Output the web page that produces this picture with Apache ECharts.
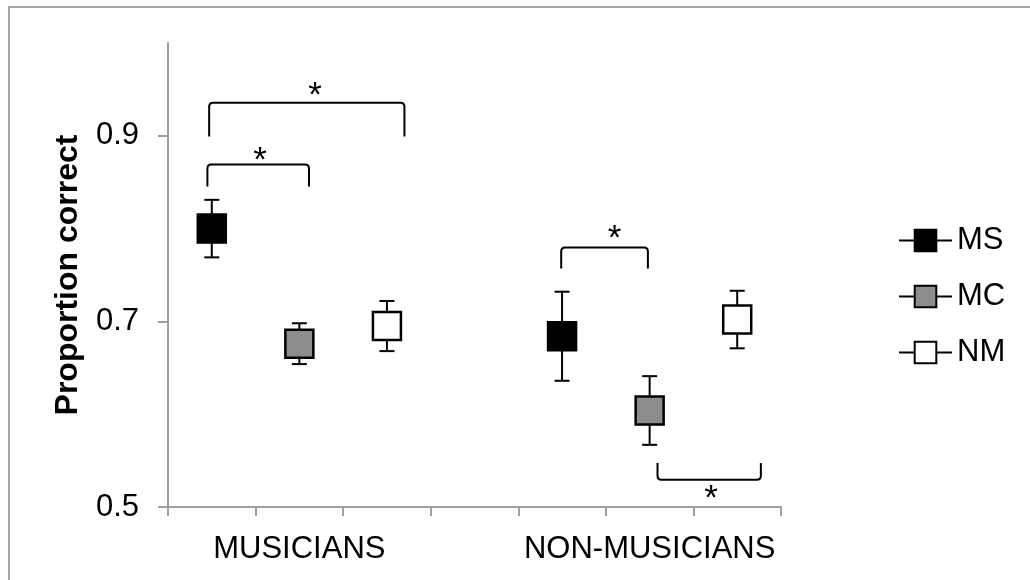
<!DOCTYPE html>
<html>
<head>
<meta charset="utf-8">
<script src="https://cdn.jsdelivr.net/npm/echarts@6/dist/echarts.min.js"></script>
<style>
html, body { margin: 0; padding: 0; background: #fff; }
#chart { width: 1030px; height: 580px; }
</style>
</head>
<body>
<div id="chart"></div>
<script>
// x slots: 3 conditions per group, one empty slot between the groups
var xLabels = ['', 'MUSICIANS', '', '', '', 'NON-MUSICIANS', ''];
var groupSlots = [[0, 1, 2], [4, 5, 6]];

// proportion correct per group (musicians, non-musicians)
var msMean = [0.800, 0.684];
var msErr = [0.031, 0.048];
var mcMean = [0.676, 0.604];
var mcErr = [0.022, 0.037];
var nmMean = [0.695, 0.702];
var nmErr = [0.027, 0.031];

var yTicks = [0.5, 0.7, 0.9];

// significance brackets: from / to slot, bar level, leg end level, star slot / level
var sigFrom = [-0.03, -0.05, 3.99, 5.09];
var sigTo = [2.2, 1.11, 4.98, 6.27];
var sigBar = [0.9355, 0.869, 0.7796, 0.5294];
var sigLeg = [0.8993, 0.8455, 0.757, 0.5473];
var starX = [1.18, 0.55, 4.6, 5.7];
var starY = [0.951, 0.881, 0.7975, 0.517];

var FONT = '"Liberation Sans", Arial, sans-serif';

function placed(mean, cond) {
    var arr = xLabels.map(function () { return '-'; });
    mean.forEach(function (v, g) {
        arr[groupSlots[g][cond]] = v;
    });
    return arr;
}

function errData(mean, err, cond) {
    return mean.map(function (v, g) {
        return [groupSlots[g][cond], v - err[g], v + err[g]];
    });
}

var errorBars = []
    .concat(errData(msMean, msErr, 0))
    .concat(errData(mcMean, mcErr, 1))
    .concat(errData(nmMean, nmErr, 2));

var sigData = sigFrom.map(function (f, i) {
    return [f, sigTo[i], sigBar[i], sigLeg[i], starX[i], starY[i]];
});

function renderError(params, api) {
    var top = api.coord([api.value(0), api.value(2)]);
    var bot = api.coord([api.value(0), api.value(1)]);
    var cap = 7.5;
    var st = { stroke: '#000', lineWidth: 2 };
    return {
        type: 'group',
        children: [
            { type: 'line', shape: { x1: top[0], y1: top[1], x2: bot[0], y2: bot[1] }, style: st },
            { type: 'line', shape: { x1: top[0] - cap, y1: top[1], x2: top[0] + cap, y2: top[1] }, style: st },
            { type: 'line', shape: { x1: bot[0] - cap, y1: bot[1], x2: bot[0] + cap, y2: bot[1] }, style: st }
        ]
    };
}

function renderSig(params, api) {
    var a = api.coord([api.value(0), api.value(2)]);
    var b = api.coord([api.value(1), api.value(3)]);
    var s = api.coord([api.value(4), api.value(5)]);
    var r = 4;
    var dir = b[1] > a[1] ? 1 : -1;
    var path = 'M' + a[0] + ' ' + b[1] +
        ' L' + a[0] + ' ' + (a[1] + dir * r) +
        ' Q' + a[0] + ' ' + a[1] + ' ' + (a[0] + r) + ' ' + a[1] +
        ' L' + (b[0] - r) + ' ' + a[1] +
        ' Q' + b[0] + ' ' + a[1] + ' ' + b[0] + ' ' + (a[1] + dir * r) +
        ' L' + b[0] + ' ' + b[1];
    return {
        type: 'group',
        children: [
            { type: 'path', shape: { pathData: path }, style: { fill: 'none', stroke: '#000', lineWidth: 2 } },
            {
                type: 'text',
                x: s[0], y: s[1] + 8,
                style: { text: '*', font: '35px ' + FONT, fill: '#000', align: 'center', verticalAlign: 'middle' }
            }
        ]
    };
}

function markerSeries(name, mean, cond, fill) {
    return {
        name: name,
        type: 'line',
        data: placed(mean, cond),
        symbol: 'rect',
        symbolSize: 28,
        showSymbol: true,
        showAllSymbol: true,
        connectNulls: false,
        lineStyle: { width: 0 },
        itemStyle: { color: fill, borderColor: '#000', borderWidth: 2.5 },
        z: 3
    };
}

var chart = echarts.init(document.getElementById('chart'));
chart.setOption({
    animation: false,
    backgroundColor: '#fff',
    textStyle: { fontFamily: FONT },
    graphic: [{
        type: 'rect',
        shape: { x: 9, y: 7, width: 1100, height: 700 },
        style: { fill: 'none', stroke: '#a6a6a6', lineWidth: 2 },
        silent: true
    }],
    grid: { left: 168, right: 249, top: 43, bottom: 73 },
    legend: {
        orient: 'vertical',
        left: 893,
        top: 220,
        itemWidth: 53,
        itemHeight: 27,
        itemGap: 25,
        lineStyle: { color: '#000', width: 2 },
        textStyle: { fontSize: 31, color: '#000', fontFamily: FONT },
        data: ['MS', 'MC', 'NM']
    },
    xAxis: [{
        type: 'category',
        data: xLabels,
        boundaryGap: true,
        axisLine: { lineStyle: { color: '#a0a0a0', width: 2 } },
        axisTick: { show: true, length: 9, lineStyle: { color: '#a0a0a0', width: 2 } },
        axisLabel: { interval: 0, margin: 27, fontSize: 31, color: '#000', fontFamily: FONT },
        splitLine: { show: false }
    }, {
        type: 'value',
        min: -0.5,
        max: 6.5,
        show: false
    }],
    yAxis: {
        type: 'value',
        min: 0.5,
        max: 1.0,
        name: 'Proportion correct',
        nameLocation: 'middle',
        nameGap: 84,
        nameTextStyle: { fontSize: 32, fontWeight: 'bold', color: '#000', fontFamily: FONT },
        axisLine: { show: true, onZero: false, lineStyle: { color: '#a0a0a0', width: 2 } },
        axisTick: { show: true, length: 10, customValues: yTicks, lineStyle: { color: '#a0a0a0', width: 2 } },
        axisLabel: {
            customValues: yTicks,
            margin: 29,
            fontSize: 31,
            color: '#000',
            fontFamily: FONT,
            formatter: function (v) { return v.toFixed(1); }
        },
        splitLine: { show: false }
    },
    series: [{
        type: 'custom',
        renderItem: renderError,
        data: errorBars,
        encode: { x: 0, y: [1, 2] },
        z: 1,
        silent: true
    },
    markerSeries('MS', msMean, 0, '#000'),
    markerSeries('MC', mcMean, 1, '#8c8c8c'),
    markerSeries('NM', nmMean, 2, '#fff'),
    {
        type: 'custom',
        xAxisIndex: 1,
        renderItem: renderSig,
        data: sigData,
        encode: { x: [0, 1], y: [2, 3] },
        clip: false,
        z: 4,
        silent: true
    }]
});
</script>
</body>
</html>
